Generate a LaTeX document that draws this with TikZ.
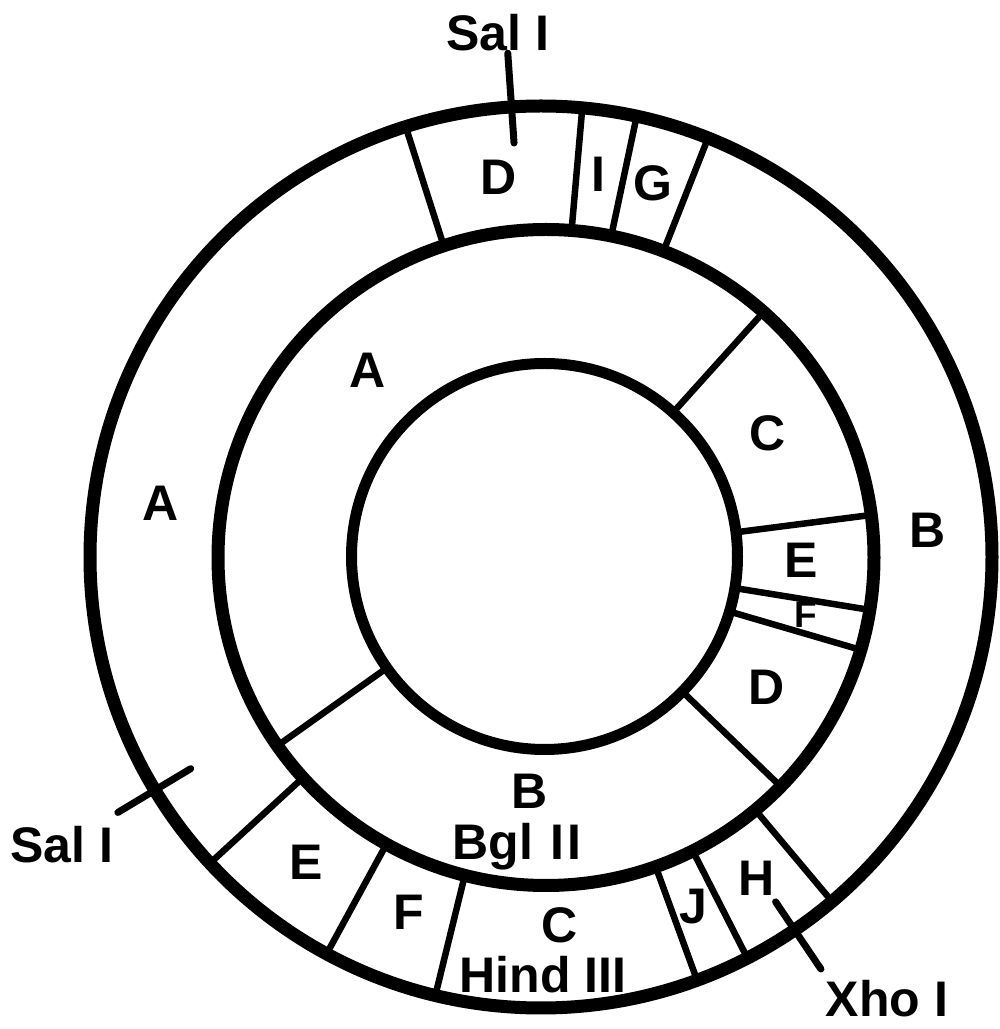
\documentclass[tikz,border=0pt]{standalone}
\usepackage{fontspec}
\setmainfont{Liberation Sans}
\begin{document}
\begin{tikzpicture}[x=1pt,y=1pt,
  ringline/.style={line width=13pt},
  innerline/.style={line width=11pt},
  divline/.style={line width=6.5pt},
  siteline/.style={line width=7pt,line cap=round},
  lab/.style={font=\fontsize{50}{50}\selectfont\bfseries, inner sep=0pt, anchor=center},
  labsmall/.style={font=\fontsize{37}{37}\selectfont\bfseries, inner sep=0pt, anchor=base west},
]
\fill[white] (0,0) rectangle (1000,1029);
\useasboundingbox (0,0) rectangle (1000,1029);
% circles
\draw[ringline] (541,472) circle[radius=451pt];
\draw[ringline] (546,471.5) circle[radius=328pt];
\draw[innerline] (544.5,472.5) circle[radius=193pt];
\begin{scope}[shift={(543,472)}]
  % middle ring dividers
  \foreach \a in {48,7.3,-9.2,-16.3,-44,215.4}
    \draw[divline] (\a:190pt) -- (\a:331pt);
  % outer ring dividers
  \foreach \a in {107.7,85,78,68.5,-50,-63,-70,256.2,241.4,222.6}
    \draw[divline] (\a:325pt) -- (\a:454pt);
  % restriction sites
  \draw[siteline] (94:415pt) -- (94:505pt);
  \draw[siteline] (211:411pt) -- (211:496pt);
  \draw[siteline] (-56:416pt) -- (-56:497pt);
\end{scope}
% outer ring labels
\node[lab] (salTop) at (498,996) {Sal I};
\node[lab] (oD) at (499,852) {D};
\node[lab] (oI) at (598,855) {I};
\node[lab] (oG) at (653,846) {G};
\node[lab] (oB) at (928,499) {B};
\node[lab] (oH) at (757,151) {H};
\node[lab] (xho) at (887,30) {Xho I};
\node[lab] (oJ) at (693,122) {J};
\node[lab] (oC) at (560,104) {C};
\node[lab] (hind) at (543,54) {Hind III};
\node[lab] (oF) at (409,117) {F};
\node[lab] (oE) at (306,167) {E};
\node[lab] (salLeft) at (62,184) {Sal I};
\node[lab] (oA) at (161,526) {A};
% middle ring labels
\node[lab] (mA) at (368,659) {A};
\node[lab] (mC) at (768,596) {C};
\node[lab] (mE) at (801,469) {E};
\node[labsmall] (mF) at (794,401) {F};
\node[lab] (mD) at (767,342) {D};
\node[lab] (mB) at (530,238) {B};
\node[lab, anchor=base] (bgl) at (517,169) {Bgl\hspace{4pt} I\kern3pt I};
\end{tikzpicture}
\end{document}
